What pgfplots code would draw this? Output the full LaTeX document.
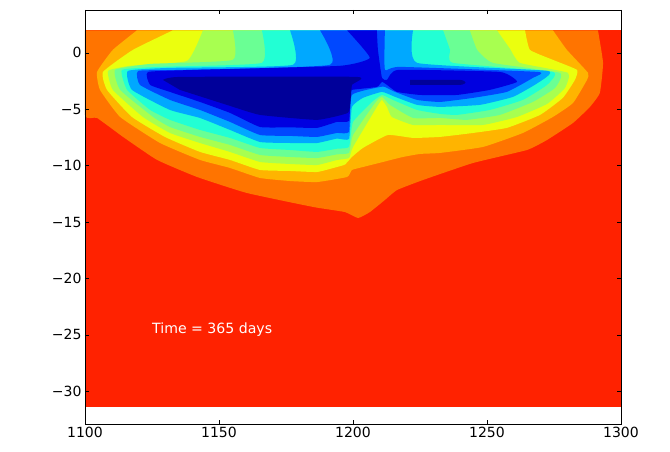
\documentclass[border=0pt]{standalone}
\usepackage{fontspec}
\setmainfont{DejaVu Sans}
\usepackage{pgfplots}
\pgfplotsset{compat=1.18}
\definecolor{cRed}{HTML}{FF2200}
\definecolor{cOrange}{HTML}{FF7400}
\definecolor{cAmber}{HTML}{FFB400}
\definecolor{cYellow}{HTML}{EBFF0E}
\definecolor{cLime}{HTML}{A8FF50}
\definecolor{cGreen}{HTML}{6AFF94}
\definecolor{cCyan}{HTML}{22FFD4}
\definecolor{cLt}{HTML}{00A8FF}
\definecolor{cBlue}{HTML}{0048FF}
\definecolor{cDk}{HTML}{0000E0}
\definecolor{cCore}{HTML}{00009A}
\begin{document}
\begin{tikzpicture}
\useasboundingbox (-85pt,-27pt) rectangle (585pt,424pt);
\begin{axis}[
  at={(0pt,0pt)}, anchor=south west,
  scale only axis, width=536pt, height=414pt,
  xmin=1100, xmax=1300, ymin=-32.9, ymax=3.8,
  xtick={1100,1150,1200,1250,1300},
  xticklabels={1100,1150,1200,1250,1300},
  ytick={-30,-25,-20,-15,-10,-5,0},
  yticklabels={−30,−25,−20,−15,−10,−5,0},
  tick align=inside, major tick length=4pt,
  tick style={black,line width=0.5pt},
  axis line style={black,line width=0.7pt},
  tick label style={font=\fontsize{14}{16}\selectfont},
  axis on top,
  clip=true,
]
\pgfplotsset{band/.style={fill=#1,draw=none,forget plot,smooth,tension=0.25}}
\addplot[fill=cRed,draw=none,forget plot] coordinates {(1100,2)(1100,-31.4)(1300,-31.4)(1300,2)} -- cycle;
\addplot[band=cOrange] coordinates {(1100,2)(1100,-5.5)(1104.5,-5.77)(1114.2,-7.45)(1126.9,-9.49)(1141.8,-11)(1160.4,-12.42)(1185.1,-13.66)(1197,-14.11)(1201.9,-14.64)(1206.3,-14.11)(1211.9,-13.04)(1216.4,-12.16)(1226.1,-11.27)(1244.8,-9.76)(1264.9,-8.61)(1272.4,-7.72)(1282.1,-6.21)(1288.4,-4.79)(1292.1,-3.55)(1293.3,-.89)(1291.4,2)} -- cycle;
\addplot[band=cAmber] coordinates {(1119.4,2)(1110.4,.27)(1104.5,-1.69)(1105.6,-3.28)(1113.1,-5.68)(1128,-7.99)(1142.9,-9.49)(1154.1,-10.2)(1165.3,-11.09)(1176.5,-11.36)(1186.6,-11.45)(1197.8,-11)(1199.6,-10.38)(1203.7,-10.12)(1211.2,-9.67)(1218.6,-9.23)(1225,-8.96)(1232.5,-8.87)(1248.5,-8.34)(1263.4,-7.1)(1274.6,-5.68)(1282.1,-4.44)(1287.3,-2.4)(1287.7,-1.77)(1279.8,.27)(1274.6,2)} -- cycle;
\addplot[band=cYellow] coordinates {(1132.8,2)(1117.9,.27)(1106.7,-1.69)(1108.2,-3.28)(1117.5,-5.68)(1129.8,-7.45)(1142.9,-8.78)(1154.1,-9.49)(1165.3,-10.38)(1176.5,-10.47)(1186.6,-10.56)(1194,-10.12)(1197,-9.9)(1199.6,-9.23)(1203.7,-8.43)(1213,-7.28)(1222.4,-7.54)(1232.5,-7.45)(1244.8,-7.1)(1257.4,-6.65)(1269.8,-5.5)(1278.3,-3.99)(1282.8,-2.4)(1283.6,-1.51)(1274.6,-.62)(1266,.27)(1264.2,2)} -- cycle;
\addplot[band=cLime] coordinates {(1144,2)(1138.1,-.71)(1116.8,-1.15)(1108.6,-1.6)(1110.4,-3.28)(1121.6,-5.68)(1131.7,-7.1)(1142.9,-7.99)(1154.1,-8.78)(1165.3,-9.67)(1176.5,-9.85)(1186.6,-9.94)(1194,-9.5)(1198.5,-9.32)(1200,-8.34)(1208.9,-4.79)(1210.8,-4.17)(1212.7,-4.79)(1214.5,-5.68)(1222.4,-6.39)(1232.5,-6.39)(1248.5,-6.39)(1261.2,-5.68)(1272.4,-4.53)(1279.1,-3.11)(1280.2,-1.77)(1262.3,-.89)(1258.6,.35)(1253.7,2)} -- cycle;
\addplot[band=cGreen] coordinates {(1155.2,2)(1155.2,-.62)(1124.3,-.98)(1111.2,-1.51)(1113.1,-3.28)(1125.4,-5.68)(1131.7,-6.57)(1142.9,-7.45)(1154.1,-8.16)(1165.3,-9.05)(1176.5,-9.23)(1186.6,-9.32)(1194,-9)(1198.5,-8.87)(1200,-7.28)(1208.2,-4.44)(1210.8,-3.9)(1213.8,-4.61)(1222.4,-5.77)(1232.5,-5.77)(1242.5,-5.94)(1254.8,-5.5)(1267.1,-4.35)(1275.4,-3.11)(1277.2,-1.77)(1252.2,-.89)(1246.3,.27)(1243.6,2)} -- cycle;
\addplot[band=cCyan] coordinates {(1166,2)(1166,-.89)(1128,-1.24)(1113.8,-1.51)(1115.7,-3.28)(1124.3,-5.06)(1131.7,-5.94)(1142.9,-6.83)(1154.1,-7.54)(1165.3,-8.43)(1176.5,-8.61)(1186.6,-8.78)(1194,-8.5)(1198.5,-8.34)(1200,-6.12)(1207.1,-4.35)(1210.8,-3.73)(1214.9,-4.17)(1223.9,-5.06)(1232.5,-5.41)(1238.8,-5.5)(1251.1,-5.06)(1263.4,-4.17)(1272.4,-2.84)(1274.6,-1.69)(1237.3,-.89)(1236.2,.27)(1233.6,2)} -- cycle;
\addplot[band=cLt] coordinates {(1176.5,2)(1177.6,-1.06)(1131.7,-1.33)(1116,-1.6)(1117.5,-3.28)(1131.7,-5.06)(1142.9,-5.77)(1154.1,-6.83)(1165.3,-7.9)(1176.5,-7.99)(1186.6,-7.99)(1194,-7.6)(1198.5,-7.63)(1199.6,-4.79)(1203.7,-3.99)(1210.8,-3.46)(1215.7,-3.9)(1223.9,-4.61)(1232.5,-4.79)(1247.4,-4.61)(1259.7,-3.9)(1269,-2.66)(1272.7,-1.6)(1223.9,-.89)(1222.4,2)} -- cycle;
\addplot[band=cBlue] coordinates {(1187.7,2)(1191.4,-1.06)(1135.4,-1.51)(1119.8,-1.6)(1120.5,-2.84)(1131.7,-4.17)(1142.9,-5.06)(1154.1,-6.12)(1165.3,-7.28)(1176.5,-7.36)(1186.6,-7.45)(1194,-7.1)(1198.5,-7.01)(1199.6,-3.73)(1210.1,-3.02)(1211.9,-3.02)(1215.7,-3.46)(1223.9,-4.17)(1232.5,-4.35)(1244.8,-3.99)(1257.4,-3.46)(1267.1,-2.22)(1269,-1.69)(1217.5,-1.24)(1211.9,-1.5)(1211.9,2)} -- cycle;
\addplot[band=cDk] coordinates {(1197.8,2)(1206.3,-.44)(1195.1,-1.15)(1142.9,-1.5)(1123.5,-1.69)(1124.3,-2.84)(1131.7,-3.46)(1142.9,-4.35)(1154.1,-5.32)(1165.3,-6.57)(1176.5,-6.6)(1186.6,-6.65)(1194,-6.12)(1198.5,-6.03)(1199.1,-3.6)(1199.6,-3.28)(1208.9,-3.02)(1210.8,-2.57)(1212.7,-2.84)(1216.4,-3.46)(1225,-3.73)(1238.8,-3.73)(1251.1,-3.28)(1261.2,-2.57)(1254.8,-1.69)(1216.8,-1.51)(1212.7,-2.4)(1210.8,-2.22)(1209.3,.27)(1208.9,2)} -- cycle;
\addplot[band=cCore] coordinates {(1129.1,-2.4)(1135.4,-2.13)(1201.5,-2.13)(1199.6,-2.84)(1199.1,-4.17)(1198.1,-5.32)(1186.6,-5.94)(1165.3,-5.5)(1154.1,-4.7)(1135.4,-3.28)} -- cycle;
\addplot[band=cCore] coordinates {(1221.3,-2.4)(1240,-2.4)(1242,-2.62)(1240,-2.84)(1221.3,-2.84)} -- cycle;
\node[anchor=west,text=white,font=\fontsize{14.1}{15}\selectfont,inner sep=0pt] at (axis cs:1125,-24.5) {Time = 365 days};
\end{axis}
\end{tikzpicture}
\end{document}
